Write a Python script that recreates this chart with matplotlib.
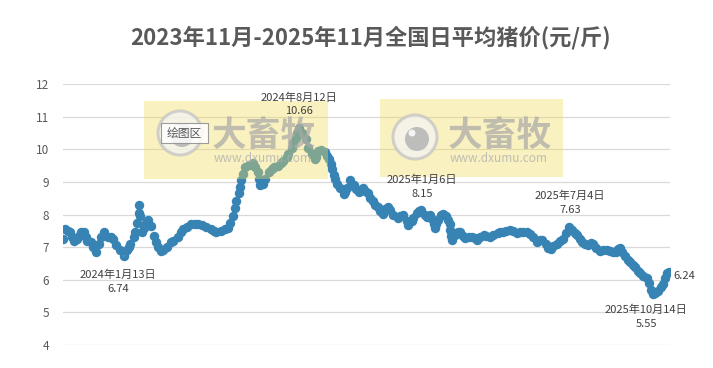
import matplotlib
matplotlib.use("Agg")
import matplotlib.pyplot as plt
import matplotlib.patches as mpatches
from matplotlib.transforms import IdentityTransform
import pandas as pd

plt.rcParams["font.family"] = ["Noto Sans CJK SC", "DejaVu Sans"]

# ---------------------------------------------------------------------------
# Data
# ---------------------------------------------------------------------------

start_date = "2023-11-01"

# days since start_date
day_offsets = [
    0, 2, 5, 8, 10, 13, 16, 19, 21, 25, 27, 29, 33, 36, 39, 43, 45, 49, 54, 57,
    60, 63, 68, 73, 77, 79, 81, 85, 87, 89, 91, 92, 93, 95, 97, 100, 102, 106,
    109, 112, 114, 118, 121, 125, 130, 133, 138, 142, 145, 149, 154, 159, 163,
    168, 173, 178, 182, 185, 190, 195, 199, 202, 205, 207, 209, 212, 214, 215,
    217, 220, 224, 229, 232, 235, 236, 238, 241, 244, 248, 252, 255, 259, 263,
    266, 270, 272, 276, 278, 281, 283, 285, 289, 293, 296, 300, 304, 306, 308,
    312, 316, 319, 321, 323, 325, 327, 329, 331, 335, 339, 341, 343, 347, 351,
    354, 357, 359, 362, 365, 368, 371, 374, 377, 380, 383, 386, 389, 392, 395,
    399, 404, 407, 411, 415, 417, 421, 423, 427, 430, 432, 437, 440, 443, 446,
    448, 449, 451, 453, 456, 459, 463, 465, 467, 468, 469, 470, 474, 477, 480,
    483, 486, 490, 494, 498, 500, 504, 508, 511, 516, 520, 525, 528, 532, 535,
    540, 544, 549, 552, 556, 560, 564, 568, 573, 576, 579, 583, 586, 589, 592,
    597, 601, 604, 608, 611, 615, 619, 621, 625, 627, 631, 634, 638, 640, 644,
    649, 652, 657, 661, 665, 668, 671, 673, 675, 679, 683, 685, 689, 691, 695,
    697, 701, 706, 708, 710, 713, 715, 719, 723, 725, 727, 730, 732,
]

prices = [
    7.25, 7.55, 7.50, 7.45, 7.30, 7.20, 7.25, 7.35, 7.45, 7.45, 7.30, 7.20, 7.15,
    7.00, 6.85, 7.10, 7.30, 7.45, 7.30, 7.30, 7.25, 7.05, 6.90, 6.74, 6.90, 7.00,
    7.10, 7.30, 7.45, 7.75, 8.05, 8.30, 7.95, 7.45, 7.60, 7.75, 7.82, 7.65, 7.35,
    7.15, 7.00, 6.88, 6.90, 7.00, 7.15, 7.20, 7.30, 7.45, 7.55, 7.62, 7.70, 7.72,
    7.70, 7.68, 7.62, 7.55, 7.50, 7.45, 7.50, 7.55, 7.60, 7.75, 7.95, 8.20, 8.40,
    8.65, 8.85, 9.05, 9.25, 9.45, 9.52, 9.57, 9.45, 9.30, 9.10, 8.90, 8.95, 9.10,
    9.30, 9.38, 9.45, 9.50, 9.58, 9.65, 9.75, 9.85, 10.05, 10.20, 10.35, 10.50,
    10.66, 10.50, 10.30, 10.05, 9.85, 9.70, 9.75, 9.95, 9.97, 9.92, 9.80, 9.70,
    9.55, 9.38, 9.22, 9.08, 8.95, 8.80, 8.62, 8.70, 8.82, 9.05, 8.90, 8.78, 8.70,
    8.75, 8.80, 8.72, 8.65, 8.50, 8.40, 8.30, 8.24, 8.10, 8.03, 8.18, 8.24, 8.13,
    8.00, 7.90, 7.95, 7.98, 7.80, 7.67, 7.80, 7.88, 8.05, 8.12, 8.15, 8.00, 7.93,
    7.98, 7.85, 7.72, 7.60, 7.70, 7.83, 7.98, 8.03, 7.95, 7.83, 7.70, 7.52, 7.35,
    7.21, 7.37, 7.45, 7.47, 7.35, 7.27, 7.30, 7.32, 7.28, 7.21, 7.30, 7.37, 7.35,
    7.32, 7.38, 7.42, 7.45, 7.47, 7.50, 7.52, 7.48, 7.42, 7.45, 7.47, 7.45, 7.40,
    7.30, 7.16, 7.22, 7.21, 7.10, 6.98, 6.95, 7.03, 7.11, 7.18, 7.26, 7.42, 7.63,
    7.52, 7.42, 7.37, 7.25, 7.16, 7.10, 7.06, 7.12, 7.11, 6.98, 6.88, 6.90, 6.91,
    6.88, 6.86, 6.85, 6.95, 6.96, 6.85, 6.72, 6.62, 6.55, 6.45, 6.40, 6.28, 6.20,
    6.12, 6.04, 5.90, 5.70, 5.55, 5.58, 5.65, 5.78, 5.88, 6.05, 6.22, 6.24,
]

# labelled points (day offsets) and the last point
label_days = [73, 285, 432, 611, 713]
last_day = 732

y_ticks = [4, 5, 6, 7, 8, 9, 10, 11, 12]
title = "2023年11月-2025年11月全国日平均猪价(元/斤)"

# ---------------------------------------------------------------------------
# Figure
# ---------------------------------------------------------------------------

W, H = 713, 368
fig = plt.figure(figsize=(W / 100, H / 100), dpi=100)
ax = fig.add_axes([63 / W, 1 - 345 / H, (670 - 63) / W, (345 - 84) / H])

t0 = pd.Timestamp(start_date)
dates = [t0 + pd.Timedelta(days=d) for d in day_offsets]
price_at = dict(zip(day_offsets, prices))

ax.plot(dates, prices, ls="none", marker="o", ms=6.8, mew=0,
        color="#3784b4", zorder=3)

ax.set_ylim(4, 12)
ax.set_xlim(t0 - pd.Timedelta(days=0.5), t0 + pd.Timedelta(days=733.5))
ax.set_yticks(y_ticks)
ax.set_xticks([])
ax.yaxis.grid(True, color="#d9d9d9", lw=0.9)
ax.set_axisbelow(True)
for s in ax.spines.values():
    s.set_visible(False)
ax.tick_params(axis="y", length=0, labelsize=8.5, colors="#595959", pad=10)

# point labels
offsets = {73: (-4, -19), 285: (0, 17), 432: (1, 16.5), 611: (1, 17), 713: (-5, -16)}
for d in label_days:
    t = t0 + pd.Timedelta(days=d)
    v = price_at[d]
    txt = f"{t.year}年{t.month}月{t.day}日\n{v:.2f}"
    arrow = dict(arrowstyle="-", color="#a6a6a6", lw=0.7, shrinkA=8, shrinkB=3) if d == 73 else None
    ax.annotate(txt, (t, v), xytext=offsets[d], textcoords="offset points",
                ha="center", va="center", fontsize=8, color="#404040",
                linespacing=1.45, arrowprops=arrow, zorder=8)

t_last = t0 + pd.Timedelta(days=last_day)
ax.annotate(f"{price_at[last_day]:.2f}", (t_last, price_at[last_day]),
            xytext=(3, -3), textcoords="offset points", ha="left", va="center",
            fontsize=8, color="#404040", zorder=8)

fig.text(370 / W, 1 - 38 / H, title, ha="center", va="center",
         fontsize=16, fontweight="bold", color="#595959")

# ---------------------------------------------------------------------------
# Watermarks (pixel coords, y from top) drawn over the dots
# ---------------------------------------------------------------------------

pix = IdentityTransform()


def _wm(x0, x1, y0, y1, logo, text_x):
    ax.add_artist(mpatches.Rectangle((x0, H - y1), x1 - x0, y1 - y0, transform=pix,
                                     facecolor="#f0dc5a", alpha=0.38, lw=0, zorder=4))
    cx, cy = logo
    ax.add_artist(mpatches.Circle((cx, H - cy), 22, transform=pix, facecolor="#f4f4f4",
                                  edgecolor="#c4c4c4", lw=2.2, alpha=0.75, zorder=5))
    ax.add_artist(mpatches.Circle((cx + 2, H - cy - 2), 12, transform=pix,
                                  facecolor="#b4b4b4", lw=0, alpha=0.85, zorder=5))
    ax.add_artist(mpatches.Circle((cx - 3, H - cy + 4), 3.5, transform=pix,
                                  facecolor="#f4f4f4", lw=0, zorder=5))
    ax.text(text_x, H - 135, "大畜牧", transform=pix, ha="left", va="center", fontsize=25,
            fontweight="bold", color="#a8a8a8", alpha=0.7, zorder=5)
    ax.text(text_x + 2, H - 158, "www.dxumu.com", transform=pix, ha="left", va="center",
            fontsize=8.5, color="#b0b0b0", alpha=0.8, zorder=5)


_wm(144, 328, 101, 179, (180, 133), 212)
_wm(380, 563, 99, 177, (415, 137), 448)

# "绘图区" tooltip
ax.add_artist(mpatches.Rectangle((161, H - 143), 47, 20, transform=pix, facecolor="white",
                                 edgecolor="#8c8c8c", lw=0.8, alpha=0.85, zorder=6))
ax.text(184.5, H - 133, "绘图区", transform=pix, ha="center", va="center", fontsize=8.5,
        color="#595959", zorder=7)

fig.savefig("out.png", dpi=100)
plt.close(fig)
